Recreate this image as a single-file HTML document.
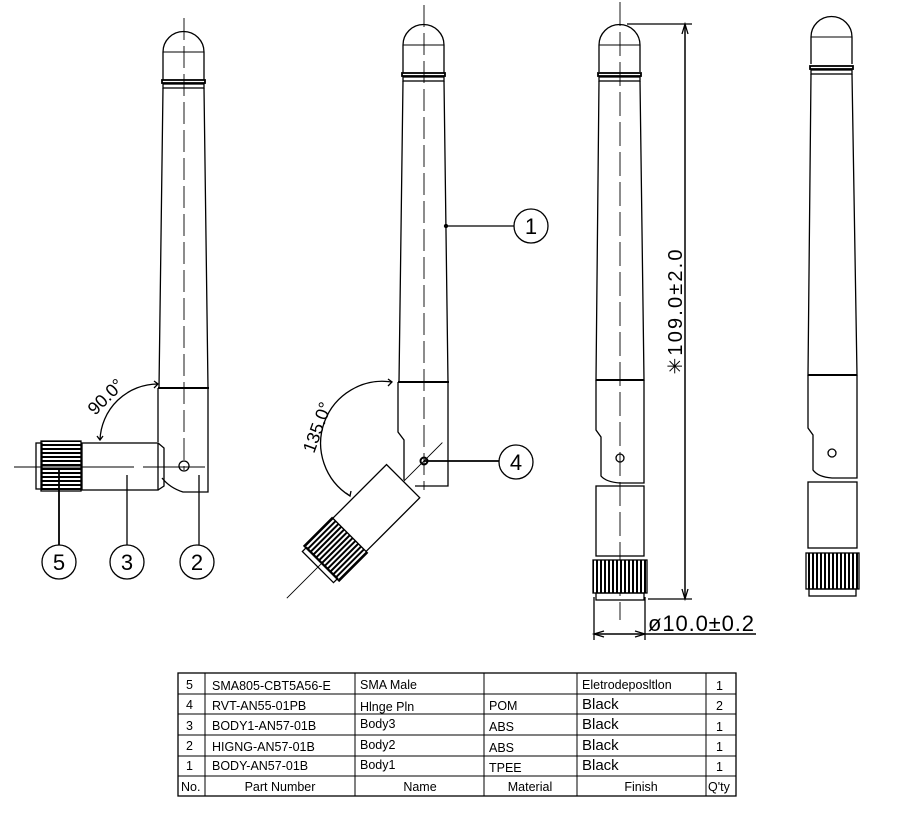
<!DOCTYPE html>
<html><head><meta charset="utf-8"><style>
body{margin:0;background:#fff;width:901px;height:824px;overflow:hidden}
svg{display:block}
text{font-family:"Liberation Sans",sans-serif;fill:#000}
</style></head><body>
<svg width="901" height="824" viewBox="0 0 901 824" xmlns="http://www.w3.org/2000/svg">
<defs>
<pattern id="kv" width="4" height="10" patternUnits="userSpaceOnUse"><rect width="4" height="10" fill="#fff"/><rect width="2" height="10" fill="#000"/></pattern>
<pattern id="kh" width="10" height="4" patternUnits="userSpaceOnUse"><rect width="10" height="4" fill="#fff"/><rect width="10" height="2" fill="#000"/></pattern>
</defs>
<g fill="none" stroke="#000" stroke-width="1.3">
<!-- ===== Antenna 1 ===== -->
<line x1="184" y1="18" x2="184" y2="470" stroke-width="0.9" stroke-dasharray="22,6"/>
<path d="M163,80 V52 A20.5,20.5 0 0 1 204,52 V80"/>
<line x1="163" y1="52" x2="204" y2="52" stroke-width="0.9"/>
<rect x="162" y="80" width="43" height="3" stroke-width="1.8"/>
<rect x="163" y="84" width="41" height="4"/>
<path d="M163,88 L159,388 L208,388 L204,88"/>
<line x1="158" y1="388" x2="209" y2="388" stroke-width="2"/>
<path d="M158,388 V442 M208,388 V492 H183 Q170,488 162,478"/>
<circle cx="184" cy="466" r="5"/>
<rect x="82" y="443" width="76" height="47"/>
<path d="M158,443 L164,448 V486 L158,490"/>
<rect x="41" y="441" width="40" height="50" fill="url(#kh)"/>
<rect x="36" y="443" width="6" height="46"/>
<line x1="14" y1="467" x2="134" y2="467" stroke-width="0.9"/>
<line x1="143" y1="467" x2="205" y2="467" stroke-width="0.9"/>
<path d="M158,384 A58,58 0 0 0 100,440"/>
<path d="M154,381 L158,384 L154,388 M97,436 L100,440 L103,436"/>
<circle cx="59" cy="562" r="17"/><circle cx="127" cy="562" r="17"/><circle cx="197" cy="562" r="17"/>
<line x1="59" y1="469" x2="59" y2="545" stroke-width="1.8"/>
<line x1="127" y1="475" x2="127" y2="545"/>
<line x1="199" y1="475" x2="199" y2="545"/>

<!-- ===== Antenna 2 ===== -->
<line x1="424" y1="5" x2="424" y2="490" stroke-width="0.9" stroke-dasharray="22,6"/>
<path d="M403,73 V45 A20.5,20.5 0 0 1 444,45 V73"/>
<line x1="403" y1="45" x2="444" y2="45" stroke-width="0.9"/>
<rect x="402" y="73" width="43" height="3" stroke-width="1.8"/>
<rect x="403" y="77" width="41" height="4"/>
<path d="M403,81 L399,382 L448,382 L444,81"/>
<line x1="398" y1="382" x2="449" y2="382" stroke-width="2"/>
<path d="M398,382 V432 L404,440 V480 M448,382 V486 H415"/>
<circle cx="424" cy="461" r="3.5" stroke-width="2"/>
<g transform="rotate(-45 424 461)">
<line x1="230" y1="461" x2="450" y2="461" stroke-width="0.9"/>
<rect x="319" y="437" width="76" height="47" fill="#fff"/>
<rect x="279" y="436" width="40" height="50" fill="url(#kh)"/>
<rect x="274" y="439" width="6" height="44"/>
</g>
<path d="M392,382 A62,62 0 0 0 350,496"/>
<path d="M388,379 L392,382 L388,386 M346,493 L350,496 L351,491"/>
<circle cx="516" cy="462" r="17"/><circle cx="531" cy="226" r="17"/>
<line x1="424" y1="461" x2="499" y2="461" stroke-width="1.8"/>
<line x1="446" y1="226" x2="514" y2="226"/>
<circle cx="446" cy="226" r="1.5" fill="#000"/>

<!-- ===== Antenna 3 ===== -->
<line x1="620" y1="2" x2="620" y2="620" stroke-width="0.9" stroke-dasharray="24,6"/>
<path d="M599,72 V45 A20.5,20.5 0 0 1 640,45 V72"/>
<line x1="599" y1="45" x2="640" y2="45" stroke-width="0.9"/>
<rect x="598" y="73" width="43" height="3" stroke-width="1.8"/>
<rect x="599" y="77" width="41" height="4"/>
<path d="M599,81 L596,380 L644,380 L640,81"/>
<line x1="596" y1="380" x2="644" y2="380" stroke-width="2"/>
<path d="M596,380 V430 L601,437 V476 Q606,482 620,483 H644 V380"/>
<circle cx="620" cy="458" r="4"/>
<rect x="596" y="486" width="48" height="70"/>
<rect x="593" y="560" width="54" height="33" fill="url(#kv)"/>
<rect x="596" y="593" width="48" height="7"/>
<line x1="627" y1="24" x2="692" y2="24"/>
<line x1="648" y1="599" x2="692" y2="599"/>
<line x1="685" y1="24" x2="685" y2="599" stroke-width="1.5"/>
<path d="M682,34 L685,24 L688,34 M682,589 L685,599 L688,589"/>
<line x1="594" y1="597" x2="594" y2="640"/>
<line x1="645" y1="597" x2="645" y2="640"/>
<line x1="594" y1="634" x2="756" y2="634" stroke-width="1.5"/>
<path d="M604,631 L594,634 L604,637 M635,631 L645,634 L635,637"/>

<!-- ===== Antenna 4 ===== -->
<path d="M811,64 V37 A20.5,20.5 0 0 1 852,37 V64"/>
<line x1="811" y1="37" x2="852" y2="37" stroke-width="0.9"/>
<rect x="810" y="66" width="43" height="3" stroke-width="1.8"/>
<rect x="811" y="70" width="41" height="4"/>
<path d="M811,74 L808,375 L857,375 L852,74"/>
<line x1="808" y1="375" x2="857" y2="375" stroke-width="2"/>
<path d="M808,375 V428 L813,435 V470 Q818,477 832,478 H857 V375"/>
<circle cx="832" cy="453" r="4"/>
<rect x="808" y="482" width="49" height="66"/>
<rect x="806" y="553" width="53" height="36" fill="url(#kv)"/>
<rect x="809" y="589" width="47" height="7"/>

<!-- ===== Table ===== -->
<rect x="178" y="673" width="558" height="123"/>
<path d="M178,694 H736 M178,714 H736 M178,735 H736 M178,756 H736 M178,776 H736" stroke-width="1"/>
<path d="M205,673 V796 M355,673 V796 M484,673 V796 M577,673 V796 M706,673 V796" stroke-width="1"/>
</g>
<g font-size="22" text-anchor="middle">
<text x="59" y="570">5</text><text x="127" y="570">3</text><text x="197" y="570">2</text>
<text x="516" y="470">4</text><text x="531" y="234">1</text>
</g>
<text x="0" y="0" font-size="18" transform="translate(95,416) rotate(-45)">90.0°</text>
<text x="0" y="0" font-size="18" transform="translate(314,454) rotate(-70)">135.0°</text>
<text x="0" y="0" font-size="20" text-anchor="middle" textLength="125" transform="translate(682,312) rotate(-90)">✳109.0±2.0</text>
<text x="648" y="631" font-size="22" textLength="106">ø10.0±0.2</text>
<g font-size="12.5">
<text x="186" y="689">5</text><text x="212" y="690">SMA805-CBT5A56-E</text><text x="360" y="689" fill="#1a237e">SMA Male</text><text x="582" y="689">Eletrodeposltlon</text><text x="716" y="690">1</text>
<text x="186" y="709">4</text><text x="212" y="710">RVT-AN55-01PB</text><text x="360" y="711">Hlnge Pln</text><text x="489" y="710">POM</text><text x="582" y="709" font-size="15">Black</text><text x="716" y="710">2</text>
<text x="186" y="730">3</text><text x="212" y="730">BODY1-AN57-01B</text><text x="360" y="728">Body3</text><text x="489" y="731">ABS</text><text x="582" y="729" font-size="15">Black</text><text x="716" y="731">1</text>
<text x="186" y="750">2</text><text x="212" y="751">HIGNG-AN57-01B</text><text x="360" y="749">Body2</text><text x="489" y="752">ABS</text><text x="582" y="750" font-size="15">Black</text><text x="716" y="751">1</text>
<text x="186" y="770">1</text><text x="212" y="770">BODY-AN57-01B</text><text x="360" y="769">Body1</text><text x="489" y="772">TPEE</text><text x="582" y="770" font-size="15">Black</text><text x="716" y="771">1</text>
<text x="181" y="791">No.</text><text x="280" y="791" text-anchor="middle">Part Number</text><text x="420" y="791" text-anchor="middle">Name</text><text x="530" y="791" text-anchor="middle">Material</text><text x="641" y="791" text-anchor="middle">Finish</text><text x="708" y="791">Q'ty</text>
</g>
</svg>
</body></html>
